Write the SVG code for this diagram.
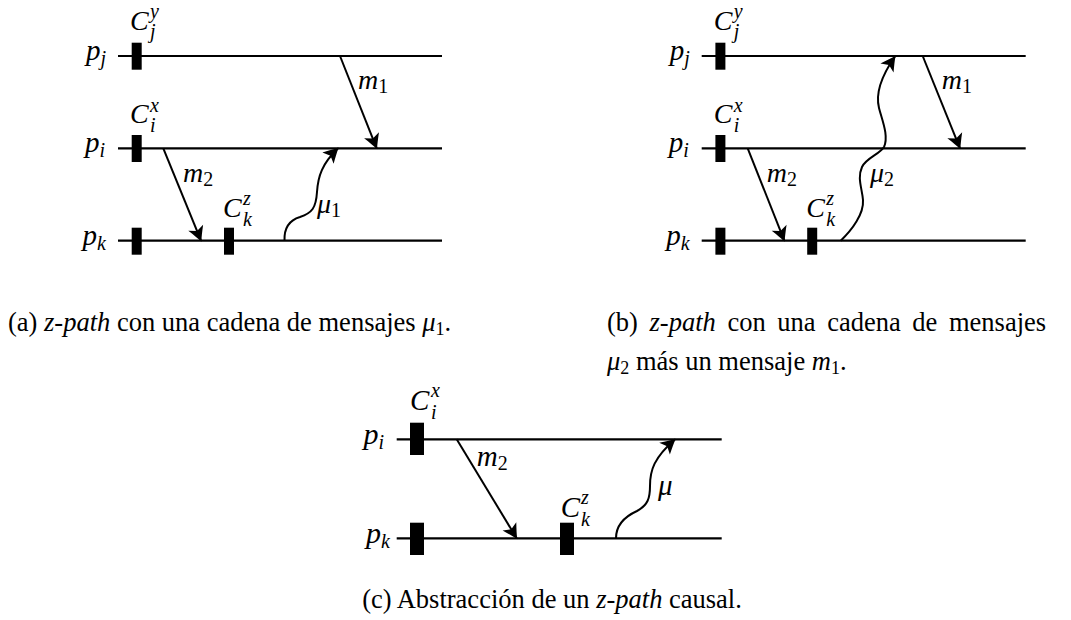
<svg xmlns="http://www.w3.org/2000/svg" width="1071" height="620" viewBox="0 0 1071 620">
<style>
.ln{stroke:#000;stroke-width:2.2;fill:none}
.ms{stroke:#000;stroke-width:2;fill:none;marker-end:url(#ah)}
.ck{fill:#000}
.t{font-family:"Liberation Serif","Times New Roman",serif;fill:#000}
.mi{font-style:italic;font-size:28px}
.sb{font-size:20px}
.up{font-style:normal}
.pl{text-anchor:end;font-size:29px}
.c .mi{font-size:29px}
.c .sb{font-size:20px}
.c .pl{font-size:30px}
.cap{font-size:26.5px}
</style>
<defs>
<marker id="ah" markerUnits="userSpaceOnUse" markerWidth="20" markerHeight="20" viewBox="-17 -10 20 20" refX="0" refY="0" orient="auto">
<path d="M1,0 C-3,-1.8 -8,-4.5 -14,-8 L-10.5,0 L-14,8 C-8,4.5 -3,1.8 1,0 Z" fill="#000"/>
</marker>
</defs>

<!-- Panel (a) -->
<g id="panel-a" class="t">
<g id="a-pj">
<line class="ln" x1="118" y1="56" x2="442" y2="56"/>
<rect class="ck" x="131.7" y="42.7" width="10" height="27"/>
<text class="mi pl" x="106" y="60">p<tspan class="sb" dy="5">j</tspan></text>
<text class="mi" x="130" y="30">C</text><text class="mi sb" x="150" y="18">y</text><text class="mi sb" x="150" y="38">j</text>
</g>
<g id="a-pi">
<line class="ln" x1="118" y1="148.3" x2="442" y2="148.3"/>
<rect class="ck" x="131.7" y="135" width="10" height="27"/>
<text class="mi pl" x="105" y="152">p<tspan class="sb" dy="5">i</tspan></text>
<text class="mi" x="130" y="123">C</text><text class="mi sb" x="150" y="112">x</text><text class="mi sb" x="150" y="132">i</text>
</g>
<g id="a-pk">
<line class="ln" x1="118" y1="240.7" x2="442" y2="240.7"/>
<rect class="ck" x="131.7" y="227.7" width="10" height="27"/>
<rect class="ck" x="224" y="227.7" width="10" height="27"/>
<text class="mi pl" x="106" y="245">p<tspan class="sb" dy="5">k</tspan></text>
<text class="mi" x="223" y="216.7">C</text><text class="mi sb" x="243" y="205">z</text><text class="mi sb" x="243" y="226">k</text>
</g>
<g id="a-labels">
<text class="mi" x="358" y="89">m<tspan class="sb up" dy="4">1</tspan></text>
<text class="mi" x="183" y="182">m<tspan class="sb up" dy="4">2</tspan></text>
<text class="mi" x="317" y="213">μ<tspan class="sb up" dy="4">1</tspan></text>
</g>
</g>

<!-- Panel (b) -->
<g id="panel-b" class="t">
<g id="b-pj">
<line class="ln" x1="701.7" y1="56" x2="1025.7" y2="56"/>
<rect class="ck" x="715.4" y="42.7" width="10" height="27"/>
<text class="mi pl" x="689.7" y="60">p<tspan class="sb" dy="5">j</tspan></text>
<text class="mi" x="713.7" y="30">C</text><text class="mi sb" x="733.7" y="18">y</text><text class="mi sb" x="733.7" y="38">j</text>
</g>
<g id="b-pi">
<line class="ln" x1="701.7" y1="148.3" x2="1025.7" y2="148.3"/>
<rect class="ck" x="715.4" y="135" width="10" height="27"/>
<text class="mi pl" x="688.7" y="152">p<tspan class="sb" dy="5">i</tspan></text>
<text class="mi" x="713.7" y="123">C</text><text class="mi sb" x="733.7" y="112">x</text><text class="mi sb" x="733.7" y="132">i</text>
</g>
<g id="b-pk">
<line class="ln" x1="701.7" y1="240.7" x2="1025.7" y2="240.7"/>
<rect class="ck" x="715.4" y="227.7" width="10" height="27"/>
<rect class="ck" x="807.2" y="227.7" width="10" height="27"/>
<text class="mi pl" x="689.7" y="245">p<tspan class="sb" dy="5">k</tspan></text>
<text class="mi" x="806.2" y="216.7">C</text><text class="mi sb" x="826.2" y="205">z</text><text class="mi sb" x="826.2" y="226">k</text>
</g>
<g id="b-labels">
<text class="mi" x="941.7" y="89">m<tspan class="sb up" dy="4">1</tspan></text>
<text class="mi" x="766.7" y="182">m<tspan class="sb up" dy="4">2</tspan></text>
<text class="mi" x="870" y="182">μ<tspan class="sb up" dy="4">2</tspan></text>
</g>
</g>

<!-- Panel (c) -->
<g id="panel-c" class="t c">
<g id="c-pi">
<line class="ln" x1="396.7" y1="439.3" x2="721.7" y2="439.3"/>
<rect class="ck" x="410" y="422.7" width="14" height="32.3"/>
<text class="mi pl" x="384" y="444">p<tspan class="sb" dy="5">i</tspan></text>
<text class="mi" x="410" y="410">C</text><text class="mi sb" x="431" y="397">x</text><text class="mi sb" x="431" y="419">i</text>
</g>
<g id="c-pk">
<line class="ln" x1="396.7" y1="538.3" x2="721.7" y2="538.3"/>
<rect class="ck" x="410" y="522.7" width="14" height="32.3"/>
<rect class="ck" x="560" y="522.7" width="14" height="32.3"/>
<text class="mi pl" x="390" y="543">p<tspan class="sb" dy="5">k</tspan></text>
<text class="mi" x="560.7" y="516.7">C</text><text class="mi sb" x="581" y="504">z</text><text class="mi sb" x="581" y="526">k</text>
</g>
<g id="c-labels">
<text class="mi" x="476.7" y="466">m<tspan class="sb up" dy="4">2</tspan></text>
<text class="mi" x="658" y="495">μ</text>
</g>
</g>

<!-- Connectors -->
<g id="connectors">
<line class="ms" x1="340" y1="56" x2="376.7" y2="148.3"/>
<line class="ms" x1="163.3" y1="148.3" x2="201" y2="240.7"/>
<path class="ms" d="M 284.5 240.7 C 284 228, 290 220, 300 217 C 312 213, 316 208, 317 192 C 318 176, 322 164, 338 148.3"/>
<line class="ms" x1="922.7" y1="56" x2="960" y2="148.3"/>
<line class="ms" x1="747.7" y1="148.3" x2="784.3" y2="240.7"/>
<path class="ms" d="M 840.7 240.7 C 852 230, 864 214, 863 200 C 862 188, 857 178, 862 167 C 866 158, 880 154, 884 147 C 889 136, 882 120, 879 108 C 876 96, 880 78, 895 56.5"/>
<line class="ms" x1="456.7" y1="439.3" x2="516.7" y2="538.3"/>
<path class="ms" d="M 616 538.3 C 616 524, 626 516, 637 511 C 648 505, 650 498, 650 486 C 650 470, 654 458, 675 439.3"/>
</g>

<!-- Captions -->
<g id="captions" class="t cap">
<text x="8" y="331">(a) <tspan font-style="italic">z-path</tspan> con una cadena de mensajes <tspan font-style="italic">μ</tspan><tspan font-size="18" dy="4">1</tspan><tspan dy="-4">.</tspan></text>
<text x="607" y="331" word-spacing="5">(b) <tspan font-style="italic">z-path</tspan> con una cadena de mensajes</text>
<text x="607" y="370"><tspan font-style="italic">μ</tspan><tspan font-size="18" dy="4">2</tspan><tspan dy="-4"> más un mensaje </tspan><tspan font-style="italic">m</tspan><tspan font-size="18" dy="4">1</tspan><tspan dy="-4">.</tspan></text>
<text x="552" y="608" text-anchor="middle">(c) Abstracción de un <tspan font-style="italic">z-path</tspan> causal.</text>
</g>
</svg>
